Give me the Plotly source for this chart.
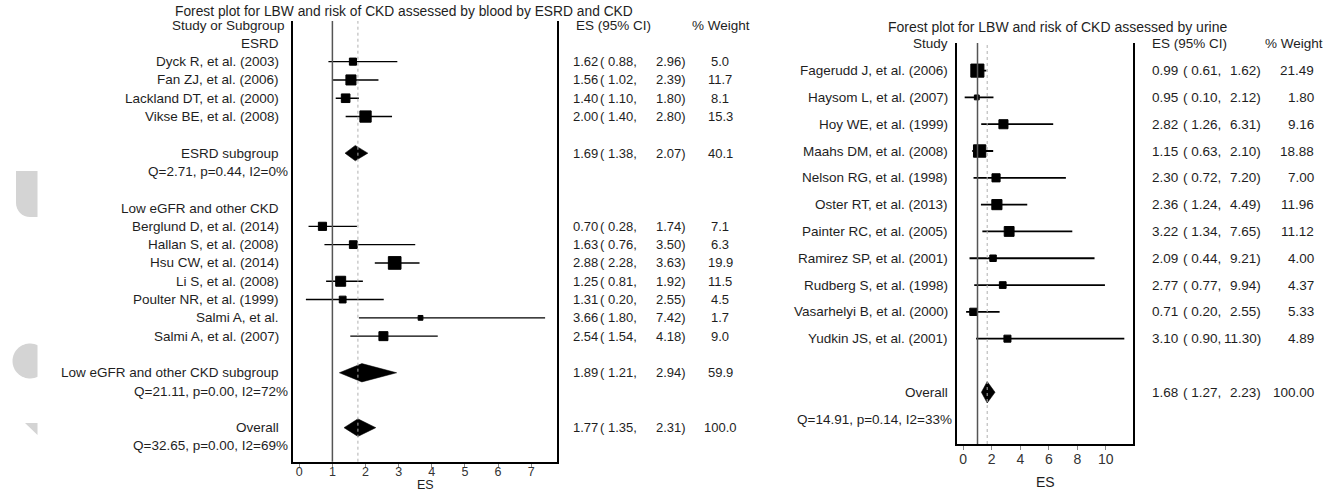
import math
import plotly.graph_objects as go

W, H = 1335, 494

# ---------------- data: left panel (blood: ESRD and CKD) ----------------
left_title = "Forest plot for LBW and risk of CKD assessed by blood by ESRD and CKD"
esrd_group = "ESRD"
esrd_studies = ["Dyck R, et al. (2003)", "Fan ZJ, et al. (2006)",
                "Lackland DT, et al. (2000)", "Vikse BE, et al. (2008)"]
esrd_es = [1.62, 1.56, 1.40, 2.00]
esrd_lo = [0.88, 1.02, 1.10, 1.40]
esrd_hi = [2.96, 2.39, 1.80, 2.80]
esrd_w = [5.0, 11.7, 8.1, 15.3]
esrd_pool_label = "ESRD subgroup"
esrd_pool = [1.69, 1.38, 2.07, 40.1]
esrd_het = "Q=2.71, p=0.44, I2=0%"

ckd_group = "Low eGFR and other CKD"
ckd_studies = ["Berglund D, et al. (2014)", "Hallan S, et al. (2008)",
               "Hsu CW, et al. (2014)", "Li S, et al. (2008)",
               "Poulter NR, et al. (1999)", "Salmi A, et al.",
               "Salmi A, et al. (2007)"]
ckd_es = [0.70, 1.63, 2.88, 1.25, 1.31, 3.66, 2.54]
ckd_lo = [0.28, 0.76, 2.28, 0.81, 0.20, 1.80, 1.54]
ckd_hi = [1.74, 3.50, 3.63, 1.92, 2.55, 7.42, 4.18]
ckd_w = [7.1, 6.3, 19.9, 11.5, 4.5, 1.7, 9.0]
ckd_pool_label = "Low eGFR and other CKD subgroup"
ckd_pool = [1.89, 1.21, 2.94, 59.9]
ckd_het = "Q=21.11, p=0.00, I2=72%"

left_overall = [1.77, 1.35, 2.31, 100.0]
left_overall_het = "Q=32.65, p=0.00, I2=69%"
left_ticks = [0, 1, 2, 3, 4, 5, 6, 7]

# ---------------- data: right panel (urine) ----------------
right_title = "Forest plot for LBW and risk of CKD assessed by urine"
urine_studies = ["Fagerudd J, et al. (2006)", "Haysom L, et al. (2007)",
                 "Hoy WE, et al. (1999)", "Maahs DM, et al. (2008)",
                 "Nelson RG, et al. (1998)", "Oster RT, et al. (2013)",
                 "Painter RC, et al. (2005)", "Ramirez SP, et al. (2001)",
                 "Rudberg S, et al. (1998)", "Vasarhelyi B, et al. (2000)",
                 "Yudkin JS, et al. (2001)"]
urine_es = [0.99, 0.95, 2.82, 1.15, 2.30, 2.36, 3.22, 2.09, 2.77, 0.71, 3.10]
urine_lo = [0.61, 0.10, 1.26, 0.63, 0.72, 1.24, 1.34, 0.44, 0.77, 0.20, 0.90]
urine_hi = [1.62, 2.12, 6.31, 2.10, 7.20, 4.49, 7.65, 9.21, 9.94, 2.55, 11.30]
urine_w = [21.49, 1.80, 9.16, 18.88, 7.00, 11.96, 11.12, 4.00, 4.37, 5.33, 4.89]
right_overall = [1.68, 1.27, 2.23, 100.00]
right_overall_het = "Q=14.91, p=0.14, I2=33%"
right_ticks = [0, 2, 4, 6, 8, 10]

# ---------------- helpers ----------------
FONT = "Liberation Sans, Arial, sans-serif"
TXT = "#1e1e1e"


def px(x):
    return x / W


def py(y):
    return 1 - y / H


fig = go.Figure()
annotations = []
shapes = []


def text(x, row, s, yref, anchor="right", size=13.5, color=TXT, yanchor="middle"):
    annotations.append(dict(
        x=px(x), y=row, xref="paper", yref=yref, text=s, showarrow=False,
        xanchor=anchor, yanchor=yanchor,
        font=dict(family=FONT, size=size, color=color)))


def es_cols(row, est, lo, hi, wt, yref, cols, wfmt, size):
    x_est, x_lo, x_hi, x_w, w_anchor = cols
    text(x_est, row, f"{est:.2f}", yref, "left", size)
    text(x_lo, row, f"( {lo:.2f},", yref, "right", size)
    text(x_hi, row, f"{hi:.2f})", yref, "right", size)
    text(x_w, row, wfmt.format(wt), yref, w_anchor, size)


def add_studies(rows, es, lo, hi, w, xa, ya, lw):
    xs, ys = [], []
    for r, a, b in zip(rows, lo, hi):
        xs += [a, b, None]
        ys += [r, r, None]
    fig.add_trace(go.Scatter(x=xs, y=ys, mode="lines", xaxis=xa, yaxis=ya,
                             line=dict(color="black", width=lw),
                             hoverinfo="skip", showlegend=False))
    fig.add_trace(go.Scatter(
        x=es, y=rows, mode="markers", xaxis=xa, yaxis=ya,
        marker=dict(symbol="square", color="black", opacity=1,
                    size=[2.5 * math.sqrt(v) + 1.5 for v in w],
                    line=dict(width=1, color="black")),
        hoverinfo="skip", showlegend=False))


def add_diamond(row, est, lo, hi, h, xa, ya):
    fig.add_trace(go.Scatter(
        x=[lo, est, hi, est, lo], y=[row, row - h, row, row + h, row],
        mode="lines", fill="toself", fillcolor="black",
        line=dict(color="black", width=0.5), xaxis=xa, yaxis=ya,
        hoverinfo="skip", showlegend=False))


# ---------------- left panel ----------------
L_lab = 281
L_het = 290
L_cols = (571, 639, 688, 720, "center")
LN = 13

text(404, None, left_title, "paper", "center", 13.8)
annotations[-1]["y"] = py(11)
text(L_lab + 6, -1, "Study or Subgroup", "y")
text(574, -1, "ES (95% CI)", "y", "left")
text(721, -1, "% Weight", "y", "center")

text(L_lab, 0, esrd_group, "y")
esrd_rows = [1 + i for i in range(len(esrd_studies))]
for r, s, e, a, b, w in zip(esrd_rows, esrd_studies, esrd_es, esrd_lo, esrd_hi, esrd_w):
    text(L_lab, r, s, "y")
    es_cols(r, e, a, b, w, "y", L_cols, "{:.1f}", LN)
add_studies(esrd_rows, esrd_es, esrd_lo, esrd_hi, esrd_w, "x", "y", 1.4)
text(L_lab, 6, esrd_pool_label, "y")
es_cols(6, *esrd_pool, "y", L_cols, "{:.1f}", LN)
add_diamond(6, esrd_pool[0], esrd_pool[1], esrd_pool[2], 0.42, "x", "y")
text(L_het, 7, esrd_het, "y")

text(L_lab, 9, ckd_group, "y")
ckd_rows = [10 + i for i in range(len(ckd_studies))]
for r, s, e, a, b, w in zip(ckd_rows, ckd_studies, ckd_es, ckd_lo, ckd_hi, ckd_w):
    text(L_lab, r, s, "y")
    es_cols(r, e, a, b, w, "y", L_cols, "{:.1f}", LN)
add_studies(ckd_rows, ckd_es, ckd_lo, ckd_hi, ckd_w, "x", "y", 1.4)
text(L_lab, 18, ckd_pool_label, "y")
es_cols(18, *ckd_pool, "y", L_cols, "{:.1f}", LN)
add_diamond(18, ckd_pool[0], ckd_pool[1], ckd_pool[2], 0.5, "x", "y")
text(L_het, 19, ckd_het, "y")

text(L_lab, 21, "Overall", "y")
es_cols(21, *left_overall, "y", L_cols, "{:.1f}", LN)
add_diamond(21, left_overall[0], left_overall[1], left_overall[2], 0.48, "x", "y")
text(L_het, 22, left_overall_het, "y")

# ---------------- right panel ----------------
R_lab = 950
R_cols = (1150, 1223, 1263, 1316, "right")
RN = 13.5
text(1057, None, right_title, "paper", "center", 14)
annotations[-1]["y"] = py(27)
text(R_lab, -1, "Study", "y2")
text(1150, -1, "ES (95% CI)", "y2", "left")
text(1294, -1, "% Weight", "y2", "center")
urine_rows = list(range(len(urine_studies)))
for r, s, e, a, b, w in zip(urine_rows, urine_studies, urine_es, urine_lo, urine_hi, urine_w):
    text(R_lab, r, s, "y2")
    es_cols(r, e, a, b, w, "y2", R_cols, "{:.2f}", RN)
add_studies(urine_rows, urine_es, urine_lo, urine_hi, urine_w, "x2", "y2", 1.8)
text(R_lab, 12, "Overall", "y2")
es_cols(12, *right_overall, "y2", R_cols, "{:.2f}", RN)
add_diamond(12, right_overall[0], right_overall[1], right_overall[2], 0.4, "x2", "y2")
text(954, 13, right_overall_het, "y2")

# axis titles
text(425, None, "ES", "paper", "center", 12.5, yanchor="bottom")
annotations[-1]["y"] = py(494)
text(1045, None, "ES", "paper", "center", 14)
annotations[-1]["y"] = py(481.5)

# reference lines
for xa, ya, v in (("x", "y", 1), ("x2", "y2", 1)):
    shapes.append(dict(type="line", xref=xa, yref=ya + " domain", x0=v, x1=v,
                       y0=0, y1=1, line=dict(color="#555555", width=1.5)))
for xa, ya, v in (("x", "y", left_overall[0]), ("x2", "y2", right_overall[0])):
    shapes.append(dict(type="line", xref=xa, yref=ya + " domain", x0=v, x1=v,
                       y0=0, y1=1, line=dict(color="#b0b0b0", width=1, dash="dot")))

# decorative grey slide shapes at the far left
GREY = "#d4d4d4"


def path_from(points):
    return "M " + " L ".join(f"{px(x):.5f},{py(y):.5f}" for x, y in points) + " Z"


p1 = [(16, 171), (37.5, 171), (37.5, 217), (30, 217)]
for k in range(1, 9):
    t = k / 8 * math.pi / 2
    p1.append((30 - 14 * math.sin(t), 203 + 14 * math.cos(t)))
shapes.append(dict(type="path", xref="paper", yref="paper", path=path_from(p1),
                   fillcolor=GREY, line=dict(width=0), layer="below"))
cx, cy, rr = 30, 361, 17.5
a0 = math.acos(7.5 / rr)
p2 = []
for k in range(41):
    t = a0 + (2 * math.pi - 2 * a0) * k / 40
    p2.append((cx + rr * math.cos(t), cy - rr * math.sin(t)))
shapes.append(dict(type="path", xref="paper", yref="paper", path=path_from(p2),
                   fillcolor=GREY, line=dict(width=0), layer="below"))
p3 = [(25, 423), (37.5, 423), (37.5, 435)]
shapes.append(dict(type="path", xref="paper", yref="paper", path=path_from(p3),
                   fillcolor=GREY, line=dict(width=0), layer="below"))

axis_common = dict(showgrid=False, zeroline=False, showline=True, linecolor="black",
                   linewidth=2, ticks="outside", ticklen=4, tickwidth=1,
                   tickcolor="#888888")

fig.update_layout(
    width=W, height=H, margin=dict(l=0, r=0, t=0, b=0),
    paper_bgcolor="white", plot_bgcolor="white", showlegend=False,
    xaxis=dict(domain=[px(293.3), px(556.7)], range=[-0.18, 7.77], anchor="y",
               tickvals=left_ticks, ticklabelstandoff=-7,
               tickfont=dict(family=FONT, size=12.5, color="#333333"), **axis_common),
    yaxis=dict(domain=[py(461.7), py(21)], range=[22.86, -1.22], anchor="x",
               showgrid=False, zeroline=False, showticklabels=False, ticks="",
               showline=True, mirror=True, linecolor="black", linewidth=2),
    xaxis2=dict(domain=[px(956.7), px(1133.3)], range=[-0.46, 11.93], anchor="y2",
                tickvals=right_ticks, ticklabelstandoff=-3,
                tickfont=dict(family=FONT, size=14, color="#333333"), **axis_common),
    yaxis2=dict(domain=[py(444), py(43)], range=[13.93, -1.03], anchor="x2",
                showgrid=False, zeroline=False, showticklabels=False, ticks="",
                showline=True, mirror=True, linecolor="black", linewidth=2),
    annotations=annotations, shapes=shapes,
)

fig.write_html(
    "out.html",
    config={"displayModeBar": False},
    post_script="document.body.style.margin='0';document.body.style.padding='0';"
                "document.body.style.overflow='hidden';",
)
